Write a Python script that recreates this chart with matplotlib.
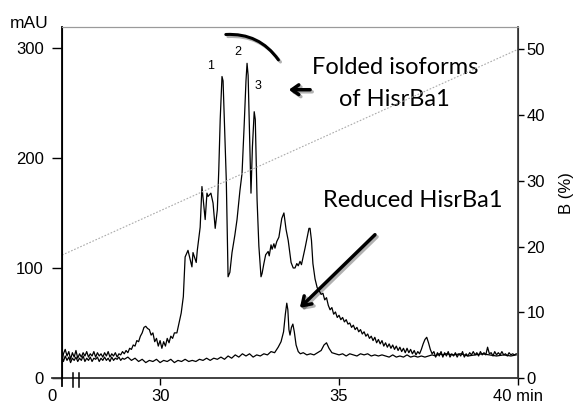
import matplotlib
matplotlib.use('Agg')
import matplotlib.pyplot as plt
import matplotlib.patheffects as pe
from matplotlib.patches import FancyArrowPatch

# folded sample trace (time in min, absorbance in mAU)
folded_t = [
    27.26, 27.30, 27.35, 27.40, 27.45, 27.50, 27.55, 27.60, 27.65, 27.70,
    27.75, 27.80, 27.85, 27.90, 27.95, 28.00, 28.05, 28.10, 28.15, 28.20,
    28.25, 28.30, 28.35, 28.40, 28.45, 28.50, 28.55, 28.60, 28.65, 28.70,
    28.75, 28.80, 28.85, 28.90, 28.95, 29.00, 29.05, 29.10, 29.15, 29.20,
    29.25, 29.30, 29.35, 29.40, 29.45, 29.50, 29.55, 29.60, 29.65, 29.70,
    29.75, 29.80, 29.85, 29.90, 29.95, 30.00, 30.05, 30.10, 30.15, 30.20,
    30.25, 30.30, 30.35, 30.40, 30.47, 30.53, 30.59, 30.65, 30.70, 30.78,
    30.89, 30.92, 31.01, 31.04, 31.12, 31.17, 31.26, 31.31, 31.34, 31.42,
    31.48, 31.54, 31.60, 31.64, 31.68, 31.73, 31.76, 31.80, 31.85, 31.90,
    31.95, 32.01, 32.09, 32.15, 32.23, 32.29, 32.35, 32.40, 32.43, 32.46,
    32.50, 32.54, 32.58, 32.63, 32.66, 32.71, 32.76, 32.82, 32.85, 32.90,
    32.95, 33.02, 33.05, 33.10, 33.13, 33.18, 33.21, 33.26, 33.32, 33.40,
    33.46, 33.52, 33.58, 33.62, 33.66, 33.72, 33.77, 33.82, 33.86, 33.91,
    33.95, 33.99, 34.05, 34.11, 34.16, 34.19, 34.23, 34.27, 34.33, 34.39,
    34.45, 34.50, 34.55, 34.60, 34.65, 34.70, 34.75, 34.80, 34.85, 34.90,
    34.95, 35.00, 35.05, 35.10, 35.15, 35.20, 35.25, 35.30, 35.35, 35.40,
    35.45, 35.50, 35.55, 35.60, 35.65, 35.70, 35.75, 35.80, 35.85, 35.90,
    35.95, 36.00, 36.05, 36.10, 36.15, 36.20, 36.25, 36.30, 36.35, 36.40,
    36.45, 36.50, 36.55, 36.60, 36.65, 36.70, 36.75, 36.80, 36.85, 36.90,
    36.95, 37.00, 37.05, 37.10, 37.15, 37.20, 37.25, 37.30, 37.35, 37.40,
    37.45, 37.50, 37.55, 37.60, 37.65, 37.70, 37.75, 37.80, 37.85, 37.90,
    37.95, 38.00, 38.05, 38.10, 38.15, 38.20, 38.25, 38.30, 38.35, 38.40,
    38.45, 38.50, 38.55, 38.60, 38.65, 38.70, 38.75, 38.80, 38.85, 38.90,
    38.95, 39.00, 39.05, 39.10, 39.15, 39.20, 39.25, 39.30, 39.35, 39.40,
    39.45, 39.50, 39.55, 39.60, 39.65, 39.70, 39.75, 39.80, 39.85, 39.90,
    39.95,
]
folded_mau = [
    14, 22, 26, 20, 24, 17, 23, 19, 25, 18,
    22, 19, 23, 20, 24, 19, 22, 20, 24, 19,
    23, 20, 22, 19, 23, 20, 24, 19, 22, 20,
    23, 19, 22, 21, 24, 22, 25, 23, 27, 26,
    30, 29, 34, 33, 38, 41, 46, 47, 45, 44,
    39, 41, 33, 36, 29, 34, 27, 33, 29, 36,
    32, 38, 36, 41, 41, 50, 59, 74, 110, 116,
    101, 114, 105, 116, 137, 174, 144, 168, 165, 168,
    159, 136, 153, 189, 235, 274, 270, 230, 180, 92,
    96, 114, 130, 144, 170, 186, 230, 270, 286, 275,
    220, 168, 210, 242, 235, 162, 120, 92, 95, 104,
    112, 115, 111, 121, 117, 122, 118, 124, 128, 145,
    150, 135, 125, 115, 105, 100, 100, 104, 102, 106,
    103, 109, 118, 128, 136, 136, 125, 104, 90, 82,
    79, 76, 77, 71, 73, 66, 62, 64, 58, 60,
    55, 57, 53, 55, 51, 53, 49, 50, 46, 48,
    44, 46, 42, 44, 40, 42, 38, 40, 36, 38,
    34, 37, 32, 35, 31, 34, 29, 32, 28, 31,
    27, 30, 26, 29, 25, 28, 24, 27, 23, 27,
    23, 26, 22, 25, 21, 24, 22, 26, 31, 35,
    37, 32, 26, 22, 24, 19, 23, 20, 24, 19,
    23, 20, 24, 19, 22, 20, 23, 19, 22, 20,
    24, 19, 22, 20, 23, 21, 24, 21, 23, 20,
    24, 21, 23, 21, 28, 22, 23, 20, 24, 21,
    23, 21, 24, 21, 22, 20, 23, 21, 22, 21,
    22,
]

# reduced sample trace
reduced_t = [
    27.26, 27.30, 27.35, 27.40, 27.45, 27.50, 27.55, 27.60, 27.65, 27.70,
    27.75, 27.80, 27.85, 27.90, 27.95, 28.00, 28.05, 28.10, 28.15, 28.20,
    28.25, 28.30, 28.35, 28.40, 28.45, 28.50, 28.55, 28.60, 28.65, 28.70,
    28.75, 28.80, 28.85, 28.90, 28.95, 29.00, 29.10, 29.20, 29.30, 29.40,
    29.50, 29.60, 29.70, 29.80, 29.90, 30.00, 30.10, 30.20, 30.30, 30.40,
    30.50, 30.60, 30.70, 30.80, 30.90, 31.00, 31.10, 31.20, 31.30, 31.40,
    31.50, 31.60, 31.70, 31.80, 31.90, 32.00, 32.10, 32.20, 32.30, 32.40,
    32.50, 32.60, 32.70, 32.80, 32.90, 33.00, 33.10, 33.20, 33.30, 33.38,
    33.45, 33.50, 33.54, 33.57, 33.60, 33.63, 33.67, 33.71, 33.75, 33.80,
    33.86, 33.92, 34.00, 34.10, 34.20, 34.30, 34.40, 34.50, 34.58, 34.65,
    34.72, 34.80, 34.90, 35.00, 35.10, 35.20, 35.30, 35.40, 35.50, 35.60,
    35.70, 35.80, 35.90, 36.00, 36.10, 36.20, 36.30, 36.40, 36.50, 36.60,
    36.70, 36.80, 36.90, 37.00, 37.10, 37.20, 37.30, 37.40, 37.50, 37.60,
    37.70, 37.80, 37.90, 38.00, 38.20, 38.40, 38.60, 38.80, 39.00, 39.20,
    39.40, 39.60, 39.80, 39.95,
]
reduced_mau = [
    19, 15, 20, 16, 19, 14, 18, 16, 19, 15,
    18, 16, 20, 15, 18, 16, 19, 15, 18, 17,
    19, 15, 18, 16, 19, 16, 18, 15, 19, 16,
    18, 17, 19, 16, 18, 17, 19, 16, 18, 15,
    17, 14, 16, 15, 17, 14, 16, 15, 17, 14,
    16, 15, 17, 15, 16, 15, 17, 16, 18, 16,
    18, 17, 19, 17, 20, 18, 21, 19, 22, 20,
    22, 19, 21, 20, 22, 21, 24, 23, 28, 33,
    42, 58, 68, 62, 44, 39, 46, 49, 42, 30,
    24, 22, 23, 21, 22, 21, 23, 25, 30, 32,
    27, 23, 22, 21, 22, 20, 22, 21, 20, 22,
    21, 22, 20, 21, 20, 21, 20, 19, 21, 19,
    20, 19, 21, 19, 20, 19, 20, 19, 20, 21,
    20, 22, 21, 22, 21, 22, 20, 21, 22, 21,
    20, 21, 20, 21,
]

# solvent B gradient (%), right axis
gradient_t = [27.26, 40.0]
gradient_b = [18.7, 50.0]

x_ticks = [30, 35, 40]
x_ticklabels = ['30', '35', '40 min']
mau_ticks = [0, 100, 200, 300]
b_ticks = [0, 10, 20, 30, 40, 50]

plt.rcParams['font.family'] = ['Liberation Sans', 'DejaVu Sans']

fig = plt.figure(figsize=(5.8, 4.03), dpi=100)
ax = fig.add_axes([62 / 580, 25 / 403, 456 / 580, 351 / 403])
ax2 = ax.twinx()

ax2.plot(gradient_t, gradient_b, color='#aaaaaa', lw=0.8, ls=(0, (1.5, 1.5)))
ax.plot(reduced_t, reduced_mau, color='black', lw=0.9)
ax.plot(folded_t, folded_mau, color='black', lw=0.9)

ax.set_xlim(27.26, 40.0)
ax.set_ylim(0, 319)
ax2.set_ylim(0, 53.4)

ax.set_xticks(x_ticks)
ax.set_xticklabels(x_ticklabels)
ax.set_yticks(mau_ticks)
ax2.set_yticks(b_ticks)
ax.tick_params(axis='x', direction='out', length=5, width=1, labelsize=12, pad=3)
ax.tick_params(axis='y', direction='out', length=7, width=1, labelsize=12, pad=6)
ax2.tick_params(axis='y', direction='out', length=4, width=1, labelsize=12, pad=2)

for a in (ax, ax2):
    a.spines['top'].set_color('#9a9a9a')
    a.spines['bottom'].set_visible(False)
    a.spines['left'].set_color('black')
    a.spines['right'].set_color('#333333')
ax.spines['left'].set_linewidth(1.3)
ax2.spines['right'].set_linewidth(1.2)

# x axis line running a bit past the left spine, with break marks
ax.plot([26.98, 40.0], [0, 0], color='#333333', lw=1.3, clip_on=False)
ax.plot([27.26, 27.26], [0, -7], color='black', lw=1.3, clip_on=False)
for xb in (27.57, 27.74):
    ax.plot([xb, xb], [4.5, -8], color='black', lw=1.1, clip_on=False)
ax.text(26.98, -10, '0', ha='center', va='top', fontsize=12, clip_on=False)

fig.text(29 / 580, 1 - 24 / 403, 'mAU', ha='center', va='center', fontsize=12.5)
fig.text(567 / 580, 1 - 193 / 403, 'B (%)', ha='center', va='center',
         fontsize=12, rotation=90)

# peak numbers
for lbl, tx, ty in (('1', 31.42, 284), ('2', 32.18, 296), ('3', 32.74, 265)):
    ax.text(tx, ty, lbl, ha='center', va='center', fontsize=9)

# annotations
note_font = dict(family=['Lato', 'DejaVu Sans'], fontsize=17)
ax.text(36.56, 276, 'Folded isoforms', ha='center', va='baseline', **note_font)
ax.text(36.56, 247, 'of HisrBa1', ha='center', va='baseline', **note_font)
ax.text(37.07, 155, 'Reduced HisrBa1', ha='center', va='baseline', **note_font)

shadow = [pe.SimpleLineShadow(offset=(1.5, -1.5), alpha=0.3), pe.Normal()]
ax.annotate('', xy=(33.52, 262), xytext=(34.27, 262),
            arrowprops=dict(arrowstyle='->,head_length=0.5,head_width=0.35',
                            lw=2.5, color='black', path_effects=shadow))
ax.annotate('', xy=(33.85, 62), xytext=(36.06, 132),
            arrowprops=dict(arrowstyle='->,head_length=0.6,head_width=0.4',
                            lw=2.5, color='black', path_effects=shadow))

arc = FancyArrowPatch((31.76, 312), (33.35, 287), arrowstyle='-',
                      connectionstyle='arc3,rad=-0.3', lw=2.2, color='black',
                      clip_on=False, path_effects=shadow)
ax.add_patch(arc)

fig.savefig('out.png', dpi=100)
